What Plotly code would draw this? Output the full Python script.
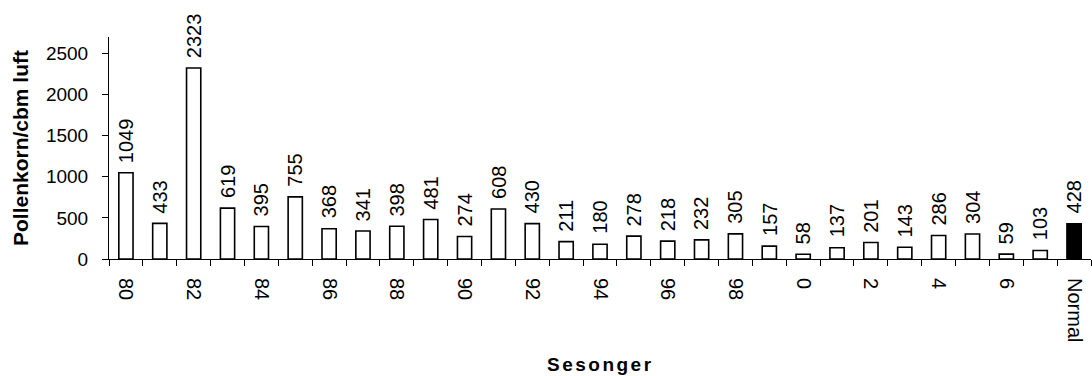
import plotly.graph_objects as go

seasons = ["80", "81", "82", "83", "84", "85", "86", "87", "88", "89",
           "90", "91", "92", "93", "94", "95", "96", "97", "98", "99",
           "0", "1", "2", "3", "4", "5", "6", "7", "Normal"]
values = [1049, 433, 2323, 619, 395, 755, 368, 341, 398, 481,
          274, 608, 430, 211, 180, 278, 218, 232, 305, 157,
          58, 137, 201, 143, 286, 304, 59, 103, 428]
shown_labels = ["80", "82", "84", "86", "88", "90", "92", "94", "96", "98",
                "0", "2", "4", "6", "Normal"]
y_ticks = [0, 500, 1000, 1500, 2000, 2500]

FONT = "Liberation Sans, Arial, sans-serif"
pos = list(range(len(seasons)))
fills = ["black" if s == "Normal" else "white" for s in seasons]

fig = go.Figure()
fig.add_trace(go.Bar(
    x=pos, y=values, width=0.42,
    marker=dict(color=fills, line=dict(color="black", width=1.6)),
    showlegend=False, hoverinfo="skip",
))

value_labels = [
    dict(text=str(v), x=p, y=v, xref="x", yref="y", textangle=-90,
         xanchor="center", yanchor="bottom", yshift=8, showarrow=False,
         font=dict(family=FONT, size=20, color="black"))
    for p, v in zip(pos, values)
]

tv = [pos[seasons.index(s)] for s in shown_labels]
fig.update_layout(
    width=1092, height=376,
    margin=dict(l=109, r=1, t=37, b=117, autoexpand=False),
    plot_bgcolor="white", paper_bgcolor="white",
    font=dict(family=FONT, color="black"),
    xaxis=dict(
        range=[-0.5, len(seasons) - 0.5], automargin=False,
        tickmode="array", tickvals=tv, ticktext=shown_labels, tickangle=90,
        ticks="outside", ticklen=6, tickcolor="rgba(0,0,0,0)",
        ticklabelstandoff=8,
        tickfont=dict(family=FONT, size=20, color="black"),
        minor=dict(tick0=-0.5, dtick=1, ticks="outside", ticklen=6,
                   tickcolor="black", tickwidth=1, showgrid=False),
        showline=True, linecolor="black", linewidth=1,
        showgrid=False, zeroline=False,
    ),
    yaxis=dict(
        range=[0, 2700], tickvals=y_ticks, automargin=False,
        ticks="outside", ticklen=6, tickcolor="black", tickwidth=1,
        ticklabelstandoff=10,
        tickfont=dict(family=FONT, size=19, color="black"),
        showline=True, linecolor="black", linewidth=1,
        showgrid=False, zeroline=False,
    ),
    annotations=value_labels + [
        dict(text="<b>Pollenkorn/cbm luft</b>", textangle=-90,
             xref="paper", yref="paper", x=-0.0906, y=0.5,
             xanchor="center", yanchor="middle", showarrow=False,
             font=dict(family=FONT, size=21, color="black")),
        dict(text='<span style="letter-spacing:2.5px"><b>Sesonger</b></span>',
             xref="paper", yref="paper", x=0.5, y=-0.473,
             xanchor="center", yanchor="middle", showarrow=False,
             font=dict(family=FONT, size=19, color="black")),
    ],
)

fig.write_html("out.html", config={"displayModeBar": False},
               post_script="document.body.style.margin='0';")
